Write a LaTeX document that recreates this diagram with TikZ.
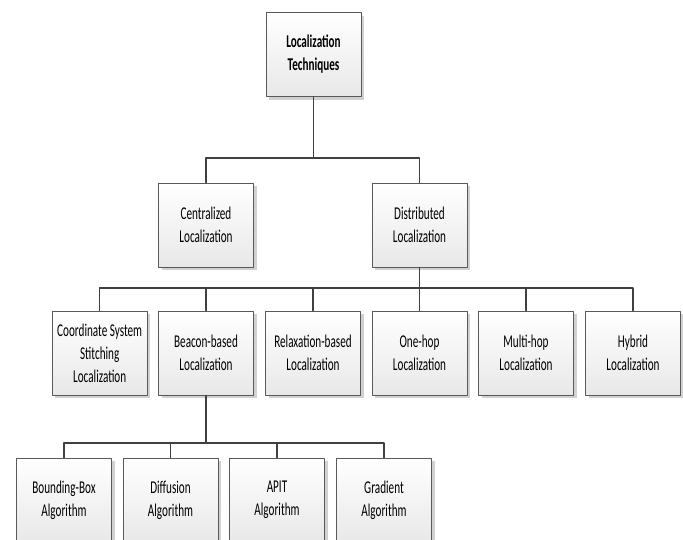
\documentclass[tikz,border=0pt]{standalone}
\usepackage{fontspec}
\setmainfont{Carlito}[FakeStretch=0.62]
\usetikzlibrary{shadows}
\begin{document}
\begin{tikzpicture}[x=1pt, y=1pt, line join=round, line cap=round,
	box/.style={draw=black!65, line width=0.9pt, top color=white, bottom color=black!9,
		minimum width=95pt, minimum height=84pt, align=center, inner sep=1pt,
		font=\fontsize{18}{23}\selectfont,
		drop shadow={shadow xshift=3pt, shadow yshift=-3pt, fill=black!18, opacity=1}},
	link/.style={draw=black!75, line width=1.3pt}]
	\useasboundingbox (0,0) rectangle (683,-539);
	% Gốc của cây
	\node[box, font=\fontsize{18}{23}\selectfont\bfseries] (tech) at (313.5,-54.5) {Localization\\Techniques};
	% Hai nhánh chính
	\node[box] (central) at (206,-225) {Centralized\\Localization};
	\node[box] (distrib) at (419.5,-225) {Distributed\\Localization};
	% Các kỹ thuật phân tán
	\node[box] (coord) at (99.7,-353) {Coordinate System\\Stitching\\Localization};
	\node[box] (beacon) at (206,-353) {Beacon-based\\Localization};
	\node[box] (relax) at (313,-353) {Relaxation-based\\Localization};
	\node[box] (onehop) at (419.5,-353) {One-hop\\Localization};
	\node[box] (multihop) at (526,-353) {Multi-hop\\Localization};
	\node[box] (hybrid) at (633,-353) {Hybrid\\Localization};
	% Các thuật toán dựa trên beacon
	\node[box] (bbox) at (64,-500) {Bounding-Box\\Algorithm};
	\node[box] (diffusion) at (170.5,-500) {Diffusion\\Algorithm};
	\node[box] (apit) at (277,-500) {APIT\\Algorithm};
	\node[box] (gradient) at (384,-500) {Gradient\\Algorithm};
	% Các điểm nối
	\coordinate (bus1) at (313.5,-158);
	\coordinate (bus2) at (419.5,-288);
	\coordinate (bus3) at (206,-443);
	% Vẽ các đường nối
	\draw[link] (tech.south) -- (bus1);
	\foreach \n in {central,distrib}
		\draw[link] (bus1) -| (\n.north);
	\draw[link] (distrib.south) -- (bus2);
	\foreach \n in {coord,beacon,relax,onehop,multihop,hybrid}
		\draw[link] (bus2) -| (\n.north);
	\draw[link] (beacon.south) -- (bus3);
	\foreach \n in {bbox,diffusion,apit,gradient}
		\draw[link] (bus3) -| (\n.north);
\end{tikzpicture}
\end{document}
